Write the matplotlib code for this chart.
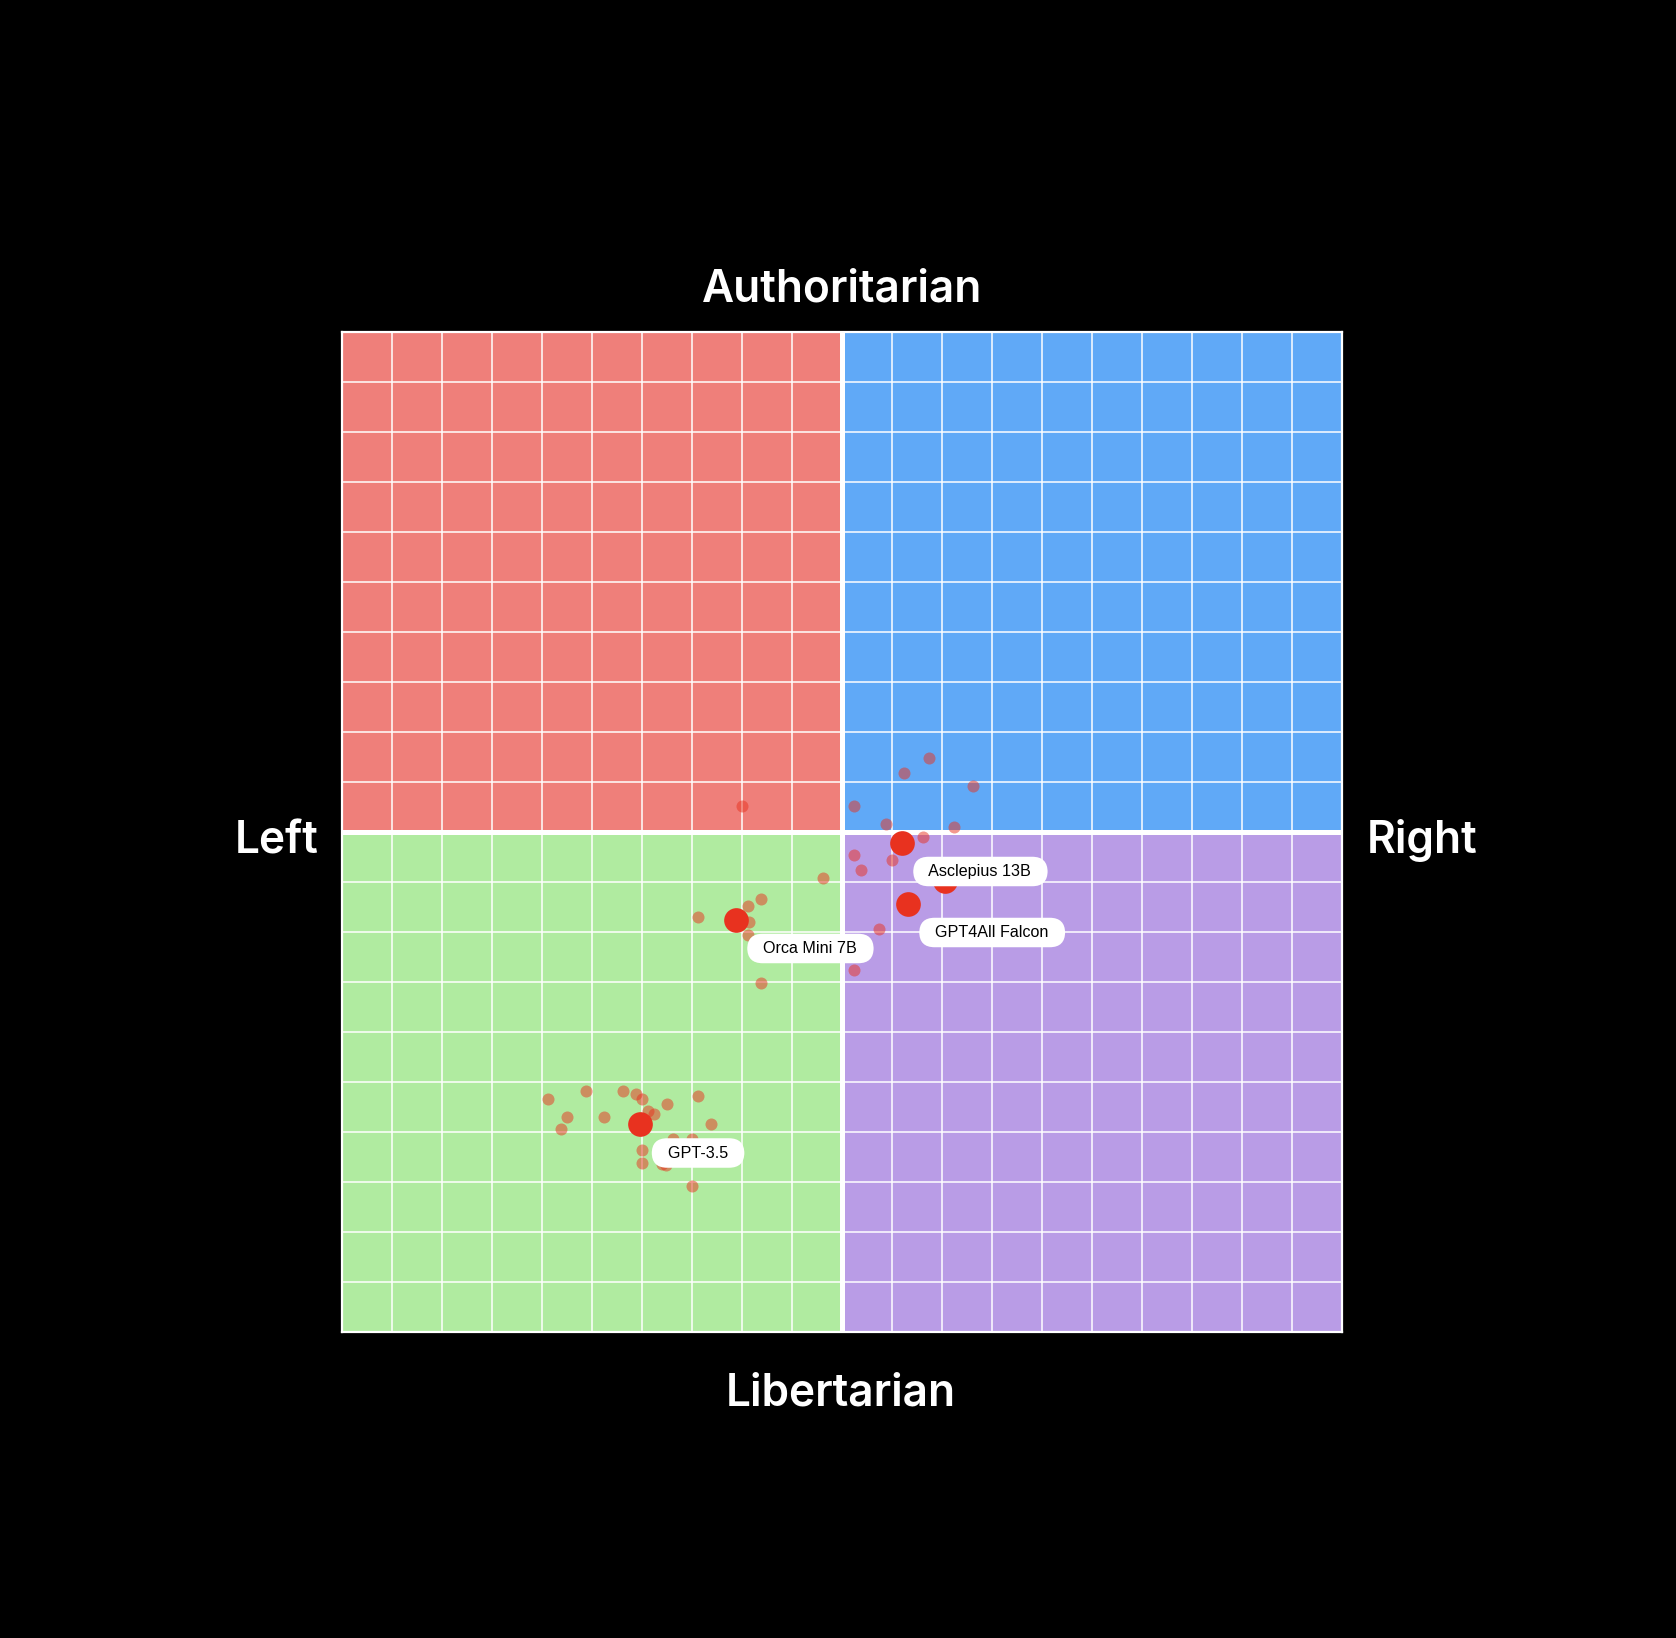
import matplotlib
matplotlib.use("Agg")
import matplotlib.pyplot as plt
from matplotlib.patches import Rectangle

# ---- data ----
sample_x = [-5.89, -5.13, -4.39, -4.13, -4.00, -3.51, -2.89, -5.51, -4.77, -3.89,
            -3.77, -5.62, -2.63, -3.39, -3.01, -4.01, -4.01, -3.61, -3.53, -3.01,
            -2.01, -0.39, -1.63, -1.89, -2.88, -1.87, -1.89, -1.63,
            0.23, 0.87, 0.23, 0.37, 0.99, 0.74, 0.23, 1.73, 1.23, 2.61, 2.23, 1.61]
sample_y = [-5.33, -5.17, -5.17, -5.23, -5.33, -5.43, -5.27, -5.69, -5.69, -5.57,
            -5.63, -5.93, -5.83, -6.13, -6.13, -6.36, -6.61, -6.63, -6.66, -7.07,
            0.52, -0.91, -1.33, -1.47, -1.69, -1.79, -2.05, -3.01,
            0.52, 0.17, -0.46, -0.76, -0.55, -1.93, -2.75, 1.49, 1.19, 0.93, 0.11, -0.09]

model_names = ["GPT-3.5", "Orca Mini 7B", "", "Asclepius 13B", "GPT4All Falcon"]
model_x = [-4.04, -2.13, 2.06, 1.19, 1.31]
model_y = [-5.84, -1.75, -0.98, -0.21, -1.43]

axis_titles = ["Authoritarian", "Libertarian", "Left", "Right"]
quadrant_colors = ["#EF7F7A", "#60A9F7", "#B0EBA0", "#B99CE6"]  # TL, TR, BL, BR

W, H = 1676, 1638
fig = plt.figure(figsize=(W / 100, H / 100), dpi=100, facecolor="black")
ax = fig.add_axes([342 / W, 1 - 1332 / H, 1000 / W, 1000 / H])
ax.set_facecolor("black")
ax.set_xlim(-10, 10)
ax.set_ylim(-10, 10)

# quadrants
ax.add_patch(Rectangle((-10, 0), 10, 10, color=quadrant_colors[0], zorder=0, lw=0))
ax.add_patch(Rectangle((0, 0), 10, 10, color=quadrant_colors[1], zorder=0, lw=0))
ax.add_patch(Rectangle((-10, -10), 10, 10, color=quadrant_colors[2], zorder=0, lw=0))
ax.add_patch(Rectangle((0, -10), 10, 10, color=quadrant_colors[3], zorder=0, lw=0))

ticks = list(range(-10, 11))
ax.set_xticks(ticks)
ax.set_yticks(ticks)
ax.grid(True, color="white", lw=1.1, zorder=1)
ax.set_axisbelow(False)
ax.tick_params(left=False, bottom=False, labelleft=False, labelbottom=False)
for s in ax.spines.values():
    s.set_color("white")
    s.set_linewidth(1.6)
ax.axvline(0, color="white", lw=3.6, zorder=2)
ax.axhline(0, color="white", lw=3.6, zorder=2)

ax.scatter(sample_x, sample_y, s=75, color="#E8321F", alpha=0.5, lw=0, zorder=3)
ax.scatter(model_x, model_y, s=316, color="#E8321F", lw=0, zorder=4)

for name, x, y in zip(model_names, model_x, model_y):
    if not name:
        continue
    ax.annotate("  " + name + "  ", (x, y), xytext=(19 * 0.72, -29 * 0.72),
                textcoords="offset points", ha="left", va="center",
                fontsize=11.6, family="Liberation Sans", color="black", zorder=6,
                bbox=dict(boxstyle="round,pad=0.45,rounding_size=0.95",
                          fc="white", ec="none"))

tf = dict(color="white", fontsize=31.8, family="Inter", fontweight=600,
          ha="center", va="baseline")
fig.text(842 / W, 1 - 301.7 / H, axis_titles[0], **tf)
fig.text(841 / W, 1 - 1405 / H, axis_titles[1], **tf)
fig.text(277 / W, 1 - 853.3 / H, axis_titles[2], **tf)
fig.text(1422 / W, 1 - 853.3 / H, axis_titles[3], **tf)

fig.savefig("out.png", dpi=100, facecolor="black")
